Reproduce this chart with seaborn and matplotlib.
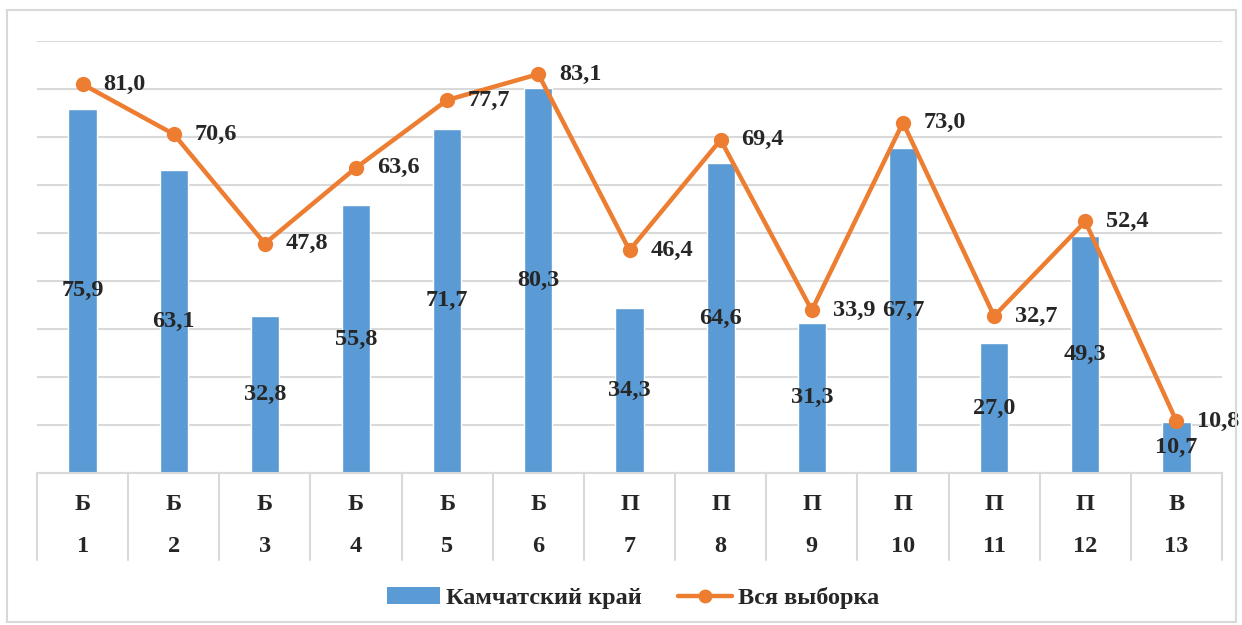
import numpy as np
import pandas as pd
import seaborn as sns
import matplotlib.pyplot as plt
from matplotlib.patches import Rectangle, Patch
from matplotlib.lines import Line2D
import matplotlib.transforms as mtransforms

# data
groups = ["Б", "Б", "Б", "Б", "Б", "Б", "П", "П", "П", "П", "П", "П", "В"]
numbers = [str(i) for i in range(1, 14)]
kamchatka = [75.9, 63.1, 32.8, 55.8, 71.7, 80.3, 34.3, 64.6, 31.3, 67.7, 27.0, 49.3, 10.7]
full_sample = [81.0, 70.6, 47.8, 63.6, 77.7, 83.1, 46.4, 69.4, 33.9, 73.0, 32.7, 52.4, 10.8]

BLUE = "#5B9BD5"
ORANGE = "#ED7D31"
GRID = "#D9D9D9"

sns.set_style("white")
plt.rcParams["font.family"] = ["Liberation Serif", "DejaVu Serif"]
plt.rcParams["font.weight"] = "bold"

df = pd.DataFrame({"pos": np.arange(len(numbers)), "kam": kamchatka, "all": full_sample})

fig = plt.figure(figsize=(12.42, 6.25), dpi=100)
ax = fig.add_axes([37 / 1242, 152 / 625, 1185 / 1242, 432 / 625])

# outer chart frame
fig.patches.append(Rectangle((7 / 1242, 3 / 625), 1229 / 1242, 612 / 625,
                             transform=fig.transFigure, fill=False,
                             edgecolor=GRID, linewidth=1.5))

sns.barplot(data=df, x="pos", y="kam", color=BLUE, width=0.31,
            saturation=1, ax=ax, zorder=2)
sns.lineplot(data=df, x="pos", y="all", color=ORANGE, linewidth=3.2,
             marker="o", markersize=11, markeredgewidth=0, ax=ax, zorder=3)

ax.set_ylim(0, 90)
ax.set_xlim(-0.5, len(numbers) - 0.5)
ax.set_yticks(np.arange(0, 91, 10))
ax.yaxis.grid(True, color=GRID, linewidth=1.5, zorder=0)
ax.set_axisbelow(True)
ax.set_yticklabels([])
ax.set_xticks([])
ax.set_xlabel("")
ax.set_ylabel("")
for s in ["top", "right", "left"]:
    ax.spines[s].set_visible(False)
ax.spines["bottom"].set_color(GRID)
ax.spines["bottom"].set_linewidth(1.5)
ax.tick_params(left=False, bottom=False)

fs = 17.5
# bar labels in bar centre
for i, v in enumerate(kamchatka):
    ax.text(i, v / 2, f"{v:.1f}".replace(".", ","), ha="center", va="center",
            fontsize=fs, fontweight="bold", zorder=4)
# line labels right of points
for i, v in enumerate(full_sample):
    ax.annotate(f"{v:.1f}".replace(".", ","), (i, v), xytext=(15, 0),
                textcoords="offset points", ha="left", va="center",
                fontsize=fs, fontweight="bold", zorder=4)

# two-level category axis
trans = mtransforms.blended_transform_factory(ax.transData, ax.transAxes)
for i in range(len(numbers)):
    ax.text(i, -32 / 432, groups[i], transform=trans, ha="center", va="center",
            fontsize=fs, fontweight="bold")
    ax.text(i, -74 / 432, numbers[i], transform=trans, ha="center",
            va="center", fontsize=fs, fontweight="bold")
for b in np.arange(-0.5, len(numbers), 1.0):
    ax.plot([b, b], [0, -87 / 432], transform=trans, color=GRID,
            linewidth=1.5, clip_on=False)

handles = [Patch(facecolor=BLUE, edgecolor="none"),
           Line2D([0], [0], color=ORANGE, linewidth=3.2, marker="o",
                  markersize=9)]
fig.legend(handles, ["Камчатский край", "Вся выборка"], loc="center",
           bbox_to_anchor=(633 / 1242, 27 / 625), ncol=2, frameon=False,
           prop={"size": fs, "weight": "bold"}, handlelength=2.2,
           handleheight=0.65, columnspacing=1.5, handletextpad=0.25)

fig.savefig("out.png", dpi=100)
